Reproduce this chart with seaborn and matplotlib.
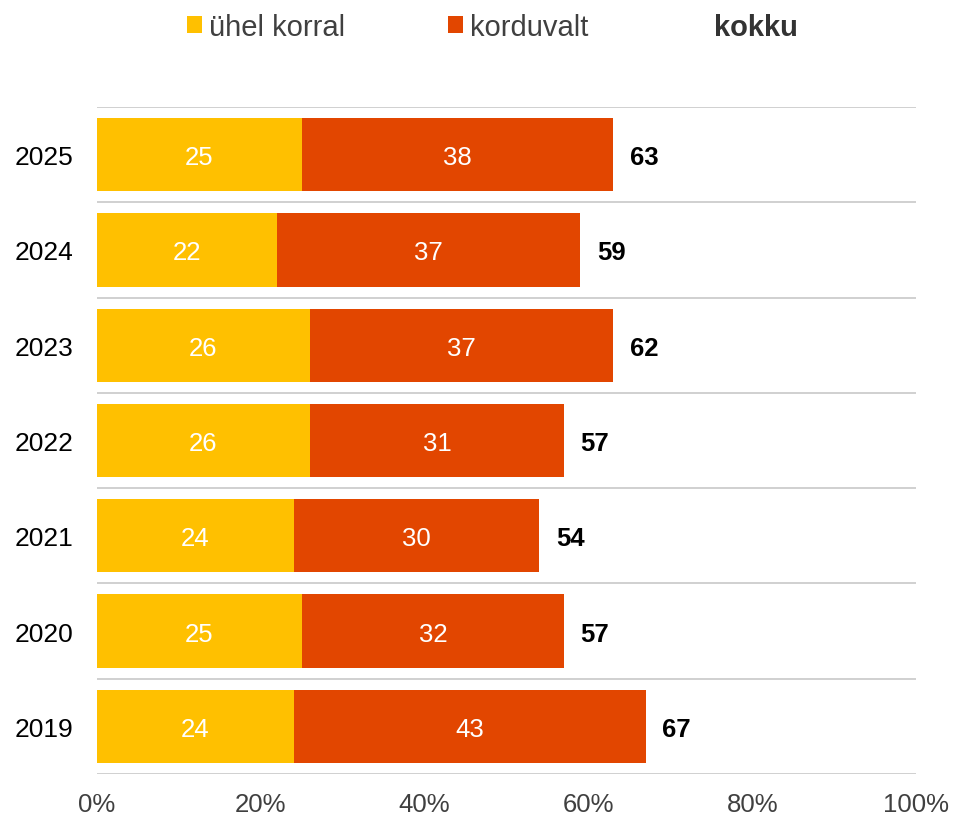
import numpy as np
import pandas as pd
import matplotlib
matplotlib.use('Agg')
import matplotlib.pyplot as plt
from matplotlib.patches import Patch
from matplotlib.ticker import PercentFormatter
import seaborn as sns

sns.set_theme(style='white')
plt.rcParams['font.family'] = ['Liberation Sans', 'DejaVu Sans']

# data
years = ['2025', '2024', '2023', '2022', '2021', '2020', '2019']
once = [25, 22, 26, 26, 24, 25, 24]        # ühel korral
repeated = [38, 37, 37, 31, 30, 32, 43]    # korduvalt
totals = [63, 59, 62, 57, 54, 57, 67]      # kokku (rounded labels)

yellow = '#FFC000'
orange = '#E24600'

df = pd.DataFrame({'year': years, 'once': once, 'repeated': repeated, 'total': totals})
df['stack'] = df['once'] + df['repeated']

fig = plt.figure(figsize=(9.54, 8.2), dpi=100)
ax = fig.add_axes([0.1017, 0.0549, 0.8585, 0.8134])

# stacked bars: full length in orange, first part in yellow on top
sns.barplot(data=df, x='stack', y='year', color=orange, width=0.77,
            linewidth=0, saturation=1, ax=ax, orient='h')
sns.barplot(data=df, x='once', y='year', color=yellow, width=0.77,
            linewidth=0, saturation=1, ax=ax, orient='h')

fs = 18.5
for i, row in df.iterrows():
    # segment values
    ax.text(row['once'] / 2, i, str(row['once']), ha='center', va='center_baseline',
            color='white', fontsize=fs)
    ax.text(row['once'] + row['repeated'] / 2, i, str(row['repeated']),
            ha='center', va='center_baseline', color='white', fontsize=fs)
    # totals at bar ends
    ax.annotate(str(row['total']), (row['stack'], i), xytext=(12, 0),
                textcoords='offset points', ha='left', va='center_baseline',
                color='black', fontsize=fs, fontweight='bold')

ax.set_xlim(0, 100)
ax.set_ylim(len(years) - 0.5, -0.5)
ax.xaxis.set_major_formatter(PercentFormatter(decimals=0))
ax.set_xticks(np.arange(0, 101, 20))
ax.set_yticks(np.arange(-0.5, len(years)), minor=True)
ax.grid(which='minor', axis='y', color='#C8C8C8', linewidth=1.2)
ax.grid(which='major', visible=False)
ax.tick_params(axis='x', length=0, pad=13, labelsize=18.5, labelcolor='#404040')
ax.tick_params(axis='y', which='both', length=0, pad=17, labelsize=19, labelcolor='black')
ax.set_xlabel('')
ax.set_ylabel('')
for s in ax.spines.values():
    s.set_visible(False)
ax.set_axisbelow(True)

handles = [Patch(facecolor=yellow, edgecolor='none'),
           Patch(facecolor=orange, edgecolor='none'),
           Patch(facecolor='none', edgecolor='none')]
leg = fig.legend(handles, ['ühel korral', 'korduvalt', 'kokku'], ncol=3,
                 loc='center', bbox_to_anchor=(0.516, 0.9655), frameon=False,
                 fontsize=21, handlelength=0.52, handleheight=0.52,
                 handletextpad=0.23, columnspacing=3.55)
for t in leg.get_texts():
    t.set_color('#404040')
leg.get_texts()[2].set_fontweight('bold')
leg.get_texts()[2].set_color('#333333')

fig.savefig('out.png', dpi=100)
